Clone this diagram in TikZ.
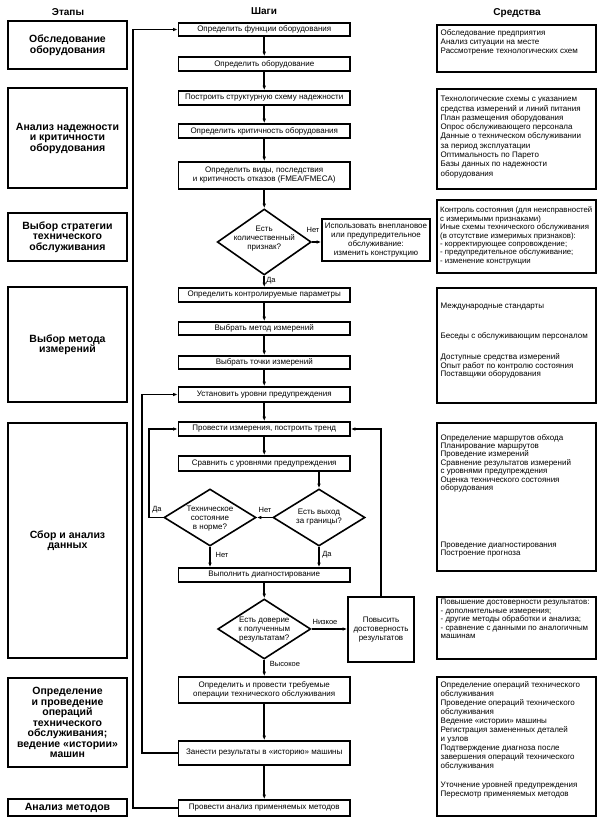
\documentclass[tikz,border=0pt]{standalone}
\usepackage{fontspec}
\setmainfont{Liberation Sans}
\usetikzlibrary{shapes.geometric,arrows.meta,calc}
\begin{document}
\begin{tikzpicture}[x=1pt,y=-1pt,
 lw/.style={line width=1.6pt},
 stage/.style={draw, lw, minimum width=119pt, inner sep=1pt, align=center, font=\fontsize{10.5}{10.5}\selectfont\bfseries},
 stepbox/.style={draw, lw, minimum width=171.5pt, minimum height=14pt, inner sep=1pt, align=center, font=\fontsize{8}{9}\selectfont},
 sidebox/.style={draw, lw, inner sep=1pt, align=center, font=\fontsize{8}{9}\selectfont},
 toolbox/.style={draw, lw, minimum width=159pt, inner sep=0pt},
 tooltext/.style={anchor=north west, inner sep=0pt, align=left},
 dec/.style={draw, lw, diamond, inner sep=0pt},
 dtext/.style={inner sep=0pt, align=center, font=\fontsize{8}{9}\selectfont},
 hdr/.style={inner sep=0pt, font=\fontsize{10}{12}\selectfont\bfseries},
 lbl/.style={inner sep=0pt, font=\fontsize{7.5}{9}\selectfont},
 arr/.style={lw, -{Latex[length=4.5pt,width=3.5pt]}},
]
\useasboundingbox (0,0) rectangle (605,822);
% headers
\node[hdr] (h1) at (68,12) {Этапы};
\node[hdr] (h2) at (264,11) {Шаги};
\node[hdr] (h3) at (517,13) {Средства};
% left column
\node[stage, minimum height=48pt] (L1) at (67.5,45) {Обследование\\оборудования};
\node[stage, minimum height=100pt] (L2) at (67.5,138) {Анализ надежности\\и критичности\\оборудования};
\node[stage, minimum height=48pt] (L3) at (67.5,237) {Выбор стратегии\\технического\\обслуживания};
\node[stage, minimum height=115pt] (L4) at (67.5,344.5) {Выбор метода\\измерений};
\node[stage, minimum height=235pt] (L5) at (67.5,540.5) {Сбор и анализ\\данных};
\node[stage, minimum height=89pt] (L6) at (67.5,722.5) {Определение\\и проведение\\операций\\технического\\обслуживания;\\ведение «истории»\\машин};
\node[stage, minimum height=17pt] (L7) at (67.5,807.5) {Анализ методов};
% middle column
\def\mx{264.25}
\node[stepbox, minimum height=13pt] (B1) at (\mx,29.5) {Определить функции оборудования};
\node[stepbox] (B2) at (\mx,64) {Определить оборудование};
\node[stepbox] (B3) at (\mx,98) {Построить структурную схему надежности};
\node[stepbox] (B4) at (\mx,131) {Определить критичность оборудования};
\node[stepbox, minimum height=27pt] (B5) at (\mx,175.5) {Определить виды, последствия\\и критичность отказов (FMEA/FMECA)};
\node[dec, minimum width=94pt, minimum height=66pt] (D1) at (\mx,242) {};
\node[dtext] (D1t) at (\mx,239) {Есть\\количественный\\признак?};
\node[sidebox, minimum width=108pt, minimum height=42pt] (S1) at (376,240) {Использовать внеплановое\\или предупредительное\\обслуживание:\\изменить конструкцию};
\node[stepbox] (B6) at (\mx,295) {Определить контролируемые параметры};
\node[stepbox, minimum height=13pt] (B7) at (\mx,328.5) {Выбрать метод измерений};
\node[stepbox, minimum height=13pt] (B8) at (\mx,362.5) {Выбрать точки измерений};
\node[stepbox, minimum height=15pt] (B9) at (\mx,394.5) {Установить уровни предупреждения};
\node[stepbox] (B10) at (\mx,429) {Провести измерения, построить тренд};
\node[stepbox, minimum height=15pt] (B11) at (\mx,463.5) {Сравнить с уровнями предупреждения};
\node[dec, minimum width=92pt, minimum height=57pt] (D2) at (210,517.5) {};
\node[dtext] (D2t) at (210,518.5) {Техническое\\состояние\\в норме?};
\node[dec, minimum width=92pt, minimum height=57pt] (D3) at (319,517.5) {};
\node[dtext] (D3t) at (319,517.5) {Есть выход\\за границы?};
\node[stepbox] (B12) at (\mx,575) {Выполнить диагностирование};
\node[dec, minimum width=93pt, minimum height=60pt] (D4) at (\mx,629) {};
\node[dtext] (D4t) at (\mx,629.5) {Есть доверие\\к полученным\\результатам?};
\node[sidebox, minimum width=66pt, minimum height=65pt] (S2) at (381,629.5) {Повысить\\достоверность\\результатов};
\node[stepbox, minimum height=26pt] (B13) at (\mx,690) {Определить и провести требуемые\\операции технического обслуживания};
\node[stepbox, minimum height=24pt] (B14) at (\mx,753) {Занести результаты в «историю» машины};
\node[stepbox, minimum height=16pt] (B15) at (\mx,808) {Провести анализ применяемых методов};
% labels
\node[lbl] (tNet1) at (313,230) {Нет};
\node[lbl] (tDa1) at (271,281) {Да};
\node[lbl] (tDa2) at (157,510) {Да};
\node[lbl] (tNet2) at (265,510) {Нет};
\node[lbl] (tNet3) at (222,555) {Нет};
\node[lbl] (tDa3) at (327,555) {Да};
\node[lbl] (tLow) at (325,622) {Низкое};
\node[lbl] (tHigh) at (285,664) {Высокое};
% right column
\node[toolbox, minimum height=47pt] (R1) at (516.5,48.5) {};
\node[tooltext, font=\fontsize{8}{9}\selectfont] (R1t) at (440.5,29) {Обследование предприятия\\Анализ ситуации на месте\\Рассмотрение технологических схем};
\node[toolbox, minimum height=100pt] (R2) at (516.5,139) {};
\node[tooltext, font=\fontsize{8}{9.3}\selectfont] (R2t) at (440.5,96) {Технологические схемы с указанием\\средства измерений и линий питания\\План размещения оборудования\\Опрос обслуживающего персонала\\Данные о техническом обслуживании\\за период эксплуатации\\Оптимальность по Парето\\Базы данных по надежности\\оборудования};
\node[toolbox, minimum height=73pt] (R3) at (516.5,236.5) {};
\node[tooltext, font=\fontsize{7.8}{8.4}\selectfont] (R3t) at (440,207) {Контроль состояния (для неисправностей\\с измеримыми признаками)\\Иные схемы технического обслуживания\\(в отсутствие измеримых признаков):\\- корректирующее сопровождение;\\- предупредительное обслуживание;\\- изменение конструкции};
\node[toolbox, minimum height=115pt] (R4) at (516.5,345.5) {};
\node[tooltext, font=\fontsize{8}{8.5}\selectfont] (R4t) at (440.5,303) {Международные стандарты\\[21.5pt]Беседы с обслуживающим персоналом\\[12.5pt]Доступные средства измерений\\Опыт работ по контролю состояния\\Поставщики оборудования};
\node[toolbox, minimum height=148pt] (R5) at (516.5,497) {};
\node[tooltext, font=\fontsize{8}{8.4}\selectfont] (R5t) at (440.5,434) {Определение маршрутов обхода\\Планирование маршрутов\\Проведение измерений\\Сравнение результатов измерений\\с уровнями предупреждения\\Оценка технического состояния\\оборудования\\[48.6pt]Проведение диагностирования\\Построение прогноза};
\node[toolbox, minimum height=62pt] (R6) at (516.5,628) {};
\node[tooltext, font=\fontsize{7.9}{8.5}\selectfont] (R6t) at (440.5,599) {Повышение достоверности результатов:\\- дополнительные измерения;\\- другие методы обработки и анализа;\\- сравнение с данными по аналогичным\\машинам};
\node[toolbox, minimum height=139pt] (R7) at (516.5,746.5) {};
\node[tooltext, font=\fontsize{8}{9}\selectfont] (R7t) at (440.5,681) {Определение операций технического\\обслуживания\\Проведение операций технического\\обслуживания\\Ведение «истории» машины\\Регистрация замененных деталей\\и узлов\\Подтверждение диагноза после\\завершения операций технического\\обслуживания\\[10pt]Уточнение уровней предупреждения\\Пересмотр применяемых методов};
% loop coordinates
\coordinate (cL0) at (133,0);
\coordinate (cL1) at (142,0);
\coordinate (cL2) at (149,0);
% connectors
\draw[arr] (B1) -- (B2);
\draw[arr] (B2) -- (B3);
\draw[arr] (B3) -- (B4);
\draw[arr] (B4) -- (B5);
\draw[arr] (B5.south) -- (D1.north);
\draw[arr] (D1.south) -- (B6.north);
\draw[arr] (D1.east) -- (D1.east -| S1.west);
\draw[arr] (B6) -- (B7);
\draw[arr] (B7) -- (B8);
\draw[arr] (B8) -- (B9);
\draw[arr] (B9) -- (B10);
\draw[arr] (B10) -- (B11);
\draw[arr] (B11.south -| D3.north) -- (D3.north);
\draw[arr] (D3.west) -- (D2.east);
\draw[arr] (D2.south) -- (D2.south |- B12.north);
\draw[arr] (D3.south) -- (D3.south |- B12.north);
\draw[arr] (D2.west) -- (D2.west -| cL2) |- (B10.west);
\draw[arr] (B12.south) -- (D4.north);
\draw[arr] (D4.east) -- (D4.east -| S2.west);
\draw[arr] (S2.north) |- (B10.east);
\draw[arr] (D4.south) -- (B13.north);
\draw[arr] (B13) -- (B14);
\draw[arr] (B14) -- (B15);
\draw[arr] (B14.west) -- (B14.west -| cL1) |- (B9.west);
\draw[arr] (B15.west) -- (B15.west -| cL0) |- (B1.west);
\end{tikzpicture}
\end{document}
